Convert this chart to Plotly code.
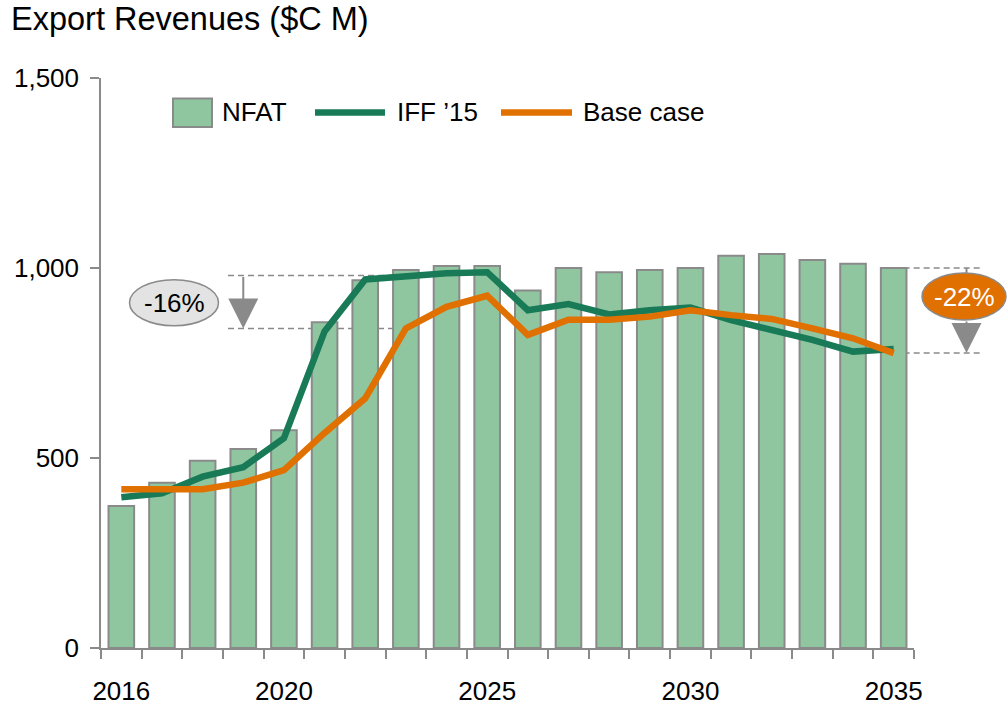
import plotly.graph_objects as go

# ---------------- data ----------------
years = list(range(2016, 2036))
nfat = [374, 435, 493, 524, 573, 857, 968, 995, 1005, 1005,
        941, 1000, 989, 995, 1000, 1032, 1037, 1021, 1011, 1000]
iff15 = [397, 407, 451, 476, 552, 833, 970, 980, 986, 989,
         889, 905, 878, 889, 896, 863, 837, 811, 780, 787]
base_case = [418, 418, 418, 435, 468, 566, 657, 841, 898, 927,
             824, 864, 864, 872, 889, 876, 866, 841, 815, 776]
series_names = ["NFAT", "IFF \u201915", "Base case"]
x_tick_labels = [2016, 2020, 2025, 2030, 2035]
y_tick_values = [0, 500, 1000, 1500]
title_text = "Export Revenues ($C M)"
gap_labels = ["-16%", "-22%"]

# ---------------- style ----------------
W, H = 1007, 705
ML, MR, MT, MB = 101, 93, 78, 57
PW, PH = W - ML - MR, H - MT - MB
X_RANGE = [years[0] - 0.5, years[-1] + 0.5]
Y_RANGE = [0, 1500]
FONT = "Liberation Sans, Arial, sans-serif"
BAR_FILL = "#8FC6A0"
GREY = "#8A8A8A"
GREEN = "#187A56"
ORANGE = "#E07000"


def xp(pix):  # pixel -> paper x
    return (pix - ML) / PW


def yp(pix):  # pixel -> paper y
    return (H - MB - pix) / PH


def dx(v):  # data x -> paper
    return (v - X_RANGE[0]) / (X_RANGE[1] - X_RANGE[0])


def dy(v):  # data y -> paper
    return (v - Y_RANGE[0]) / (Y_RANGE[1] - Y_RANGE[0])


fig = go.Figure()
fig.add_trace(go.Bar(x=years, y=nfat, name=series_names[0], width=0.63,
                     marker=dict(color=BAR_FILL, line=dict(color=GREY, width=2)),
                     showlegend=False))
fig.add_trace(go.Scatter(x=years, y=iff15, name=series_names[1], mode="lines",
                         line=dict(color=GREEN, width=6.5), showlegend=False))
fig.add_trace(go.Scatter(x=years, y=base_case, name=series_names[2], mode="lines",
                         line=dict(color=ORANGE, width=6.5), showlegend=False))

shapes = []
annotations = []

# ---- manual legend ----
ly = yp(112.5)
shapes.append(dict(type="rect", xref="paper", yref="paper",
                   x0=xp(173), x1=xp(212), y0=yp(127), y1=yp(98.5),
                   fillcolor=BAR_FILL, line=dict(color=GREY, width=2)))
shapes.append(dict(type="line", xref="paper", yref="paper",
                   x0=xp(315), x1=xp(385), y0=ly, y1=ly,
                   line=dict(color=GREEN, width=6.5)))
shapes.append(dict(type="line", xref="paper", yref="paper",
                   x0=xp(501), x1=xp(572), y0=ly, y1=ly,
                   line=dict(color=ORANGE, width=6.5)))
for name, lx in zip(series_names, [221, 396, 582]):
    annotations.append(dict(text=name, xref="paper", yref="paper", x=xp(lx), y=ly,
                            xanchor="left", yanchor="middle", showarrow=False,
                            borderpad=0, font=dict(size=26, color="#000", family=FONT)))

# ---- left gap marker (-16%) ----
top_l, bot_l = iff15[7], base_case[7]
for v in (top_l, bot_l):
    shapes.append(dict(type="line", xref="paper", yref="paper", layer="below",
                       x0=xp(228), x1=dx(years[7]), y0=dy(v), y1=dy(v),
                       line=dict(color=GREY, width=1.5, dash="6px,4px")))
annotations.append(dict(text="", x=years[3], y=bot_l, xref="x", yref="y",
                        ax=years[3], ay=top_l, axref="x", ayref="y",
                        showarrow=True, arrowhead=2, arrowsize=3, arrowwidth=2,
                        arrowcolor=GREY, standoff=0))
shapes.append(dict(type="circle", xref="paper", yref="paper",
                   x0=xp(129.5), x1=xp(218.5), y0=yp(325.7), y1=yp(279.7),
                   fillcolor="#E3E3E3", line=dict(color=GREY, width=1.5)))
annotations.append(dict(text=gap_labels[0], xref="paper", yref="paper",
                        x=xp(174), y=yp(302.7), xanchor="center", yanchor="middle",
                        showarrow=False,
                        font=dict(size=26, color="#000", family=FONT)))

# ---- right gap marker (-22%) ----
top_r, bot_r = nfat[-1], base_case[-1]
for v in (top_r, bot_r):
    shapes.append(dict(type="line", xref="paper", yref="paper", layer="below",
                       x0=dx(years[-1]), x1=xp(980), y0=dy(v), y1=dy(v),
                       line=dict(color=GREY, width=1.5, dash="6px,4px")))
ax_r = xp(966.5)
shapes.append(dict(type="line", xref="paper", yref="paper",
                   x0=ax_r, x1=ax_r, y0=dy(top_r), y1=yp(273),
                   line=dict(color=GREY, width=2)))
annotations.append(dict(text="", x=ax_r, y=dy(bot_r), xref="paper", yref="paper",
                        ax=0, ay=-(yp(320) - dy(bot_r)) * PH, axref="pixel", ayref="pixel",
                        showarrow=True, arrowhead=2, arrowsize=3, arrowwidth=2,
                        arrowcolor=GREY, standoff=0))
shapes.append(dict(type="circle", xref="paper", yref="paper",
                   x0=xp(922), x1=xp(1006), y0=yp(320), y1=yp(273),
                   fillcolor=ORANGE, line=dict(color=GREY, width=1.5)))
annotations.append(dict(text=gap_labels[1], xref="paper", yref="paper",
                        x=xp(964), y=yp(296.5), xanchor="center", yanchor="middle",
                        showarrow=False,
                        font=dict(size=26, color="#FFFFFF", family=FONT)))

fig.update_layout(
    width=W, height=H,
    margin=dict(l=ML, r=MR, t=MT, b=MB, pad=0, autoexpand=False),
    paper_bgcolor="white", plot_bgcolor="white",
    font=dict(family=FONT, size=26, color="#000"),
    title=dict(text=title_text, x=11 / W, xanchor="left", xref="container",
               y=1 - 7 / H, yanchor="top", yref="container",
               font=dict(size=32.5, color="#000", family=FONT), pad=dict(t=0, l=0)),
    showlegend=False,
    shapes=shapes, annotations=annotations,
)
fig.update_xaxes(range=X_RANGE, tickmode="array", tickvals=x_tick_labels,
                 ticktext=[str(v) for v in x_tick_labels], ticks="",
                 ticklabelstandoff=19, automargin=False,
                 showline=True, linecolor=GREY, linewidth=1.5, showgrid=False,
                 zeroline=False,
                 minor=dict(tick0=X_RANGE[0], dtick=1, ticks="outside", ticklen=9,
                            tickcolor=GREY, tickwidth=1.5, showgrid=False),
                 tickfont=dict(size=26))
fig.update_yaxes(range=Y_RANGE, tickmode="array", tickvals=y_tick_values,
                 tickformat=",", ticks="outside", ticklen=9, tickcolor=GREY,
                 tickwidth=1.5, showline=True, linecolor=GREY, linewidth=1.5,
                 showgrid=False, zeroline=False, ticklabelstandoff=6, automargin=False,
                 tickfont=dict(size=26))

fig.write_html(
    "out.html",
    config={"displayModeBar": False},
    post_script="document.body.style.margin='0';document.body.style.overflow='hidden';",
)
